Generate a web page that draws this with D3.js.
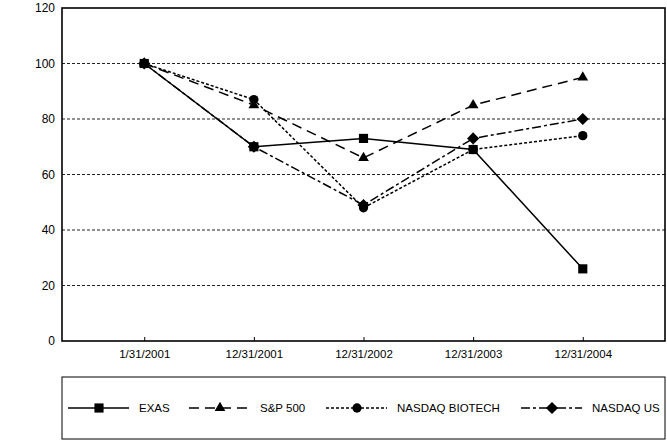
<!DOCTYPE html>
<html><head><meta charset="utf-8">
<script src="https://cdn.jsdelivr.net/npm/d3@7"></script>
<style>body{margin:0;background:#fff}svg{display:block;font-family:"Liberation Sans",Arial,sans-serif}</style>
</head><body>
<script>
const categories = ["1/31/2001","12/31/2001","12/31/2002","12/31/2003","12/31/2004"];
const exas = [100, 70, 73, 69, 26];
const sp500 = [100, 85, 66, 85, 95];
const nasdaqBiotech = [100, 87, 48, 69, 74];
const nasdaqUS = [100, 70, 49, 73, 80];
const yTicks = [0, 20, 40, 60, 80, 100, 120];
const seriesNames = ["EXAS", "S&P 500", "NASDAQ BIOTECH", "NASDAQ US"];

const series = [
  {name: seriesNames[0], values: exas, dash: null, symbol: d3.symbolSquare, size: 84, rot: 0},
  {name: seriesNames[1], values: sp500, dash: "10,6", symbol: d3.symbolTriangle, size: 50, rot: 0},
  {name: seriesNames[2], values: nasdaqBiotech, dash: "3,2", symbol: d3.symbolCircle, size: 68, rot: 0},
  {name: seriesNames[3], values: nasdaqUS, dash: "9,3,3,3", symbol: d3.symbolSquare, size: 74, rot: 45}
];

const W = 667, H = 440;
const m = {left: 62, top: 8, right: 2, bottom: 99};
const svg = d3.select("body").append("svg").attr("width", W).attr("height", H);
const x = d3.scalePoint().domain(categories).range([m.left, W - m.right]).padding(0.75);
const y = d3.scaleLinear().domain([0, 120]).range([H - m.bottom, m.top]);
const FS = 11.5;

// gridlines
svg.append("g").selectAll("line").data(yTicks.filter(t => t > 0 && t < 120)).join("line")
  .attr("x1", m.left).attr("x2", W - m.right)
  .attr("y1", d => y(d)).attr("y2", d => y(d))
  .attr("stroke", "#222").attr("stroke-width", 1).attr("stroke-dasharray", "3,2");

// y axis
const ya = svg.append("g").attr("transform", `translate(${m.left},0)`)
  .call(d3.axisLeft(y).tickValues(yTicks).tickSize(0).tickPadding(7));
ya.select(".domain").remove();
ya.selectAll("text").attr("font-size", 12).attr("fill", "#000").attr("font-family", "Liberation Sans, Arial, sans-serif");

// x axis
const xa = svg.append("g").attr("transform", `translate(0,${y(0)})`)
  .call(d3.axisBottom(x).tickSizeInner(-4).tickSizeOuter(0).tickPadding(9));
xa.select(".domain").remove();
xa.selectAll("line").attr("stroke", "#000");
xa.selectAll("text").attr("font-size", FS).attr("fill", "#000").attr("font-family", "Liberation Sans, Arial, sans-serif");

// plot frame
svg.append("rect").attr("x", m.left).attr("y", m.top)
  .attr("width", W - m.right - m.left).attr("height", y(0) - m.top)
  .attr("fill", "none").attr("stroke", "#000").attr("stroke-width", 1.6);

const line = d3.line().x((d, i) => x(categories[i])).y(d => y(d));
series.forEach(s => {
  svg.append("path").datum(s.values).attr("d", line)
    .attr("fill", "none").attr("stroke", "#000").attr("stroke-width", 1.5)
    .attr("stroke-dasharray", s.dash);
});
series.forEach(s => {
  svg.append("g").selectAll("path").data(s.values).join("path")
    .attr("transform", (d, i) => `translate(${x(categories[i])},${y(d)}) rotate(${s.rot})`)
    .attr("d", d3.symbol().type(s.symbol).size(s.size)).attr("fill", "#000");
});

// legend
const lg = svg.append("g");
lg.append("rect").attr("x", m.left).attr("y", 377).attr("width", W - m.right - m.left).attr("height", 62)
  .attr("fill", "none").attr("stroke", "#000").attr("stroke-width", 1);
const legX = [68, 189, 326, 521];
const ly = 408;
series.forEach((s, i) => {
  const g = lg.append("g").attr("transform", `translate(${legX[i]},${ly})`);
  g.append("line").attr("x1", 0).attr("x2", 61).attr("y1", 0).attr("y2", 0)
    .attr("stroke", "#000").attr("stroke-width", 1.5).attr("stroke-dasharray", s.dash);
  g.append("path").attr("transform", `translate(31,0) rotate(${s.rot})`)
    .attr("d", d3.symbol().type(s.symbol).size(s.size)).attr("fill", "#000");
  g.append("text").attr("x", 71).attr("y", 4).attr("font-size", FS).text(s.name);
});
</script>
</body></html>
